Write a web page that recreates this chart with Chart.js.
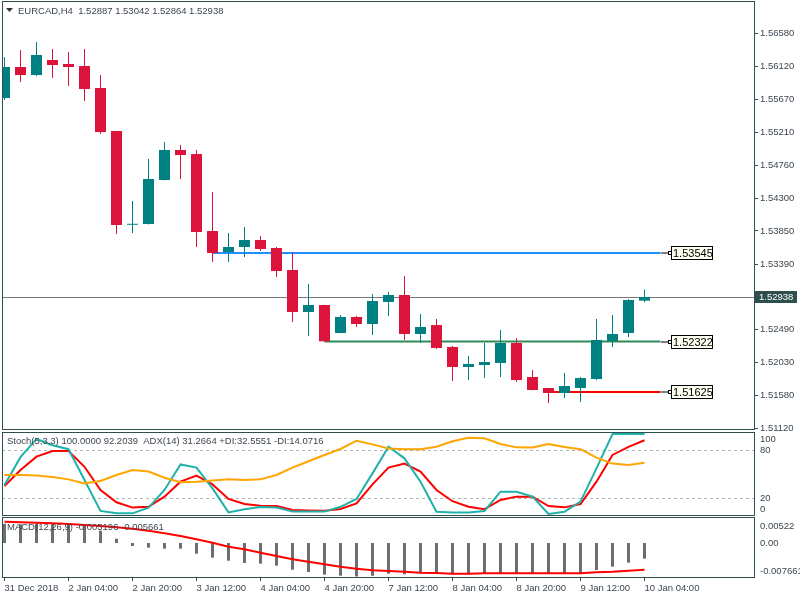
<!DOCTYPE html>
<html>
<head>
<meta charset="utf-8">
<script src="https://cdn.jsdelivr.net/npm/chart.js@4.4.1/dist/chart.umd.min.js"></script>
<style>
html,body{margin:0;padding:0;background:#fff;width:800px;height:600px;overflow:hidden}
canvas{position:absolute;left:0}
#c1{top:0}
#c2{top:431px}
#c3{top:516px}
</style>
</head>
<body>
<canvas id="c1" width="800" height="431"></canvas>
<canvas id="c2" width="800" height="85"></canvas>
<canvas id="c3" width="800" height="84"></canvas>
<script>
// ---------------- DATA ----------------
const categories = [
  "31 Dec 2018","31 Dec 16:00","31 Dec 20:00","2 Jan 00:00",
  "2 Jan 04:00","2 Jan 08:00","2 Jan 12:00","2 Jan 16:00",
  "2 Jan 20:00","3 Jan 00:00","3 Jan 04:00","3 Jan 08:00",
  "3 Jan 12:00","3 Jan 16:00","3 Jan 20:00","4 Jan 00:00",
  "4 Jan 04:00","4 Jan 08:00","4 Jan 12:00","4 Jan 16:00",
  "4 Jan 20:00","7 Jan 00:00","7 Jan 04:00","7 Jan 08:00",
  "7 Jan 12:00","7 Jan 16:00","7 Jan 20:00","8 Jan 00:00",
  "8 Jan 04:00","8 Jan 08:00","8 Jan 12:00","8 Jan 16:00",
  "8 Jan 20:00","9 Jan 00:00","9 Jan 04:00","9 Jan 08:00",
  "9 Jan 12:00","9 Jan 16:00","9 Jan 20:00","10 Jan 00:00",
  "10 Jan 04:00"
];
const timeTickIdx = [0,4,8,12,16,20,24,28,32,36,40];

const opens  = [1.55686,1.56114,1.56004,1.56211,1.56156,1.56128,1.55824,1.55230,1.53935,1.53946,
                1.54553,1.54968,1.54912,1.53849,1.53559,1.53628,1.53725,1.53614,1.53310,1.52730,
                1.52827,1.52440,1.52661,1.52564,1.52868,1.52965,1.52426,1.52550,1.52247,1.51970,
                1.51998,1.52026,1.52302,1.51832,1.51680,1.51611,1.51680,1.51805,1.52330,1.52440,
                1.52887];
const highs  = [1.56252,1.56349,1.56460,1.56363,1.56321,1.56363,1.56004,1.55232,1.54263,1.54843,
                1.55078,1.55037,1.54968,1.54388,1.53821,1.53904,1.53780,1.53628,1.53559,1.53117,
                1.52830,1.52689,1.52675,1.52979,1.53006,1.53227,1.52702,1.52633,1.52260,1.52122,
                1.52302,1.52481,1.52371,1.51929,1.51682,1.51887,1.51832,1.52633,1.52689,1.52910,
                1.53042];
const lows   = [1.55658,1.55907,1.55990,1.55962,1.55852,1.55645,1.55189,1.53807,1.53821,1.53940,
                1.54550,1.54567,1.53628,1.53421,1.53421,1.53490,1.53573,1.53214,1.52592,1.52399,
                1.52322,1.52440,1.52523,1.52412,1.52675,1.52343,1.52302,1.52219,1.51777,1.51791,
                1.51818,1.51832,1.51763,1.51650,1.51473,1.51542,1.51487,1.51791,1.52247,1.52385,
                1.52864];
const closes = [1.56114,1.56004,1.56280,1.56142,1.56114,1.55810,1.55216,1.53932,1.53940,1.54567,
                1.54968,1.54899,1.53835,1.53545,1.53628,1.53725,1.53600,1.53296,1.52730,1.52827,
                1.52325,1.52661,1.52564,1.52882,1.52965,1.52426,1.52523,1.52233,1.51970,1.52012,
                1.52039,1.52302,1.51791,1.51653,1.51611,1.51708,1.51818,1.52343,1.52426,1.52896,
                1.52938];

const priceTicks = [1.56580,1.56120,1.55670,1.55210,1.54760,1.54300,1.53850,1.53390,1.52490,1.52030,1.51580,1.51120];
const currentPrice = 1.52938;
const levelValues = [1.53545,1.52322,1.51625];
const levelStart  = [13,20,34];
const levelEnd    = 41;
const levelColors = ['#1e90ff','#2e8b57','#ff0000'];

const stochK = [36.3,71,93.8,86,81,42.5,3.8,0.8,0.8,8,
                30,62,58,32,2,6,8.8,8,3,3,
                3,9,18.8,50.8,84,69.6,40.4,2.9,2,2,
                3.8,27.9,27.9,21.7,0,2.9,15.4,57.1,100,100,
                100];
const stochD = [35,55,71.7,78.8,78.8,59,30,14.6,8,9,
                21.7,40.4,48,37,18.8,12.5,10.4,10,5,4.4,
                4,6.3,13.3,37,58,63,53,30,16,9,
                6,17.5,21.7,21.7,10,8.3,12.5,40.4,73.8,84,
                92.2];
const adxLine = [48.8,48.8,48,46.3,43.3,38.3,41.3,48.8,55,53,
                 45.4,39.6,40.4,42,43.3,42.5,43.3,48.8,58,66,
                 73.8,81.3,91.6,87,82,81,81,84,91,95.4,
                 94.6,87.5,83.3,83,87.5,83.8,81,70.4,63,61.3,
                 64];
const stochTicks = [100,80,20,0];
const stochLevels = [80,20];

const macdMain = [0.00440,0.00430,0.00435,0.00430,0.00425,0.00420,0.00281,0.00098,-0.00069,-0.00107,
                  -0.00130,-0.00130,-0.00245,-0.00336,-0.00405,-0.00457,-0.00473,-0.00519,-0.00611,-0.00663,
                  -0.00725,-0.00748,-0.007661,-0.00748,-0.00702,-0.00716,-0.00693,-0.00693,-0.00716,-0.00716,
                  -0.00693,-0.00693,-0.00693,-0.00693,-0.00693,-0.00693,-0.00693,-0.00617,-0.00542,-0.00451,
                  -0.00359];
const macdSignal = [0.00485,0.00473,0.00464,0.00450,0.00435,0.00412,0.00389,0.00358,0.00327,0.00281,
                    0.00221,0.00160,0.00084,0.00007,-0.00084,-0.00145,-0.00221,-0.00297,-0.00374,-0.00427,
                    -0.00488,-0.00541,-0.00587,-0.00625,-0.00640,-0.00656,-0.00679,-0.00687,-0.00702,-0.00702,
                    -0.00694,-0.00694,-0.00694,-0.00694,-0.00694,-0.00694,-0.00694,-0.00670,-0.00656,-0.00633,
                    -0.00611];
const macdTicks = [0.00522,0,-0.007661];
const macdTickLabels = ['0.00522','0.00','-0.007661'];

const titleText = 'EURCAD,H4  1.52887 1.53042 1.52864 1.52938';
const stochText = 'Stoch(5,3,3) 100.0000 92.2039  ADX(14) 31.2664 +DI:32.5551 -DI:14.0716';
const macdText  = 'MACD(12,26,9) -0.005196 -0.005661';

// ---------------- STYLE ----------------
const FAMILY = '"Liberation Sans", Arial, sans-serif';
const FONT = {family: FAMILY, size: 9.5};
const TXT = '#3c4650';
const FRAME = '#2f4f4f';
const UP = '#008080', DOWN = '#dc143c';
const X_MIN = -0.15625, X_MAX = 46.84375;
Chart.defaults.font.family = FAMILY;

const idx = categories.map((_, i) => i);
const candleColors = idx.map(i => closes[i] >= opens[i] ? UP : DOWN);

const framePlugin = {
  id: 'frame',
  afterDraw(c) {
    const a = c.chartArea, ctx = c.ctx;
    ctx.save();
    ctx.strokeStyle = FRAME; ctx.lineWidth = 1;
    ctx.strokeRect(a.left + 0.5, a.top + 0.5, a.right - a.left, a.bottom - a.top);
    ctx.restore();
  }
};
function noPad(s) { s.paddingTop = 0; s.paddingBottom = 0; s.paddingLeft = 0; s.paddingRight = 0; }

function hiddenX() {
  return {type: 'linear', min: X_MIN, max: X_MAX, display: false, offset: false};
}
const common = {
  responsive: false, animation: false, events: [],
  plugins: {legend: {display: false}, tooltip: {enabled: false}}
};

// ---------------- MAIN PRICE CHART ----------------
const mainOverlay = {
  id: 'mainOverlay',
  beforeDatasetsDraw(c) {
    const ctx = c.ctx, a = c.chartArea;
    const y = Math.round(c.scales.y.getPixelForValue(currentPrice)) + 0.5;
    ctx.save();
    ctx.strokeStyle = '#777'; ctx.lineWidth = 1;
    ctx.beginPath(); ctx.moveTo(a.left, y); ctx.lineTo(a.right, y); ctx.stroke();
    ctx.restore();
  },
  afterDraw(c) {
    const ctx = c.ctx, ys = c.scales.y, xs = c.scales.x;
    ctx.save();
    levelValues.forEach(v => {
      const y = Math.round(ys.getPixelForValue(v));
      const x0 = Math.round(xs.getPixelForValue(levelEnd));
      ctx.strokeStyle = '#000'; ctx.lineWidth = 1;
      ctx.beginPath(); ctx.moveTo(x0, y); ctx.lineTo(x0 + 7, y); ctx.stroke();
      ctx.strokeRect(x0 + 7.5, y - 1.5, 3, 3);
      ctx.fillStyle = '#fffff2';
      ctx.fillRect(x0 + 11, y - 6, 41, 13);
      ctx.strokeRect(x0 + 10.5, y - 6.5, 41, 13);
      ctx.fillStyle = '#000';
      ctx.font = '11px ' + FAMILY;
      ctx.textBaseline = 'middle'; ctx.textAlign = 'left';
      ctx.fillText(v.toFixed(5), x0 + 12, y + 0.5);
    });
    // current price tag on axis
    const yp = Math.round(ys.getPixelForValue(currentPrice));
    ctx.fillStyle = FRAME;
    ctx.fillRect(755, yp - 6, 42, 12);
    ctx.fillStyle = '#fff';
    ctx.font = '9.5px ' + FAMILY;
    ctx.textBaseline = 'middle'; ctx.textAlign = 'left';
    ctx.fillText(currentPrice.toFixed(5), 759, yp + 0.5);
    // title
    ctx.fillStyle = '#333';
    ctx.beginPath(); ctx.moveTo(6, 8); ctx.lineTo(13, 8); ctx.lineTo(9.5, 12); ctx.closePath(); ctx.fill();
    ctx.fillStyle = TXT;
    ctx.fillText(titleText, 18, 11);
    ctx.restore();
  }
};

const mainDatasets = [
  {type: 'bar', data: idx.map(i => ({x: i, y: [lows[i], highs[i]]})),
   backgroundColor: candleColors, barThickness: 1, maxBarThickness: 1, grouped: false,
   inflateAmount: 0, borderWidth: 0, order: 1},
  {type: 'bar', data: idx.map(i => ({x: i, y: [opens[i], closes[i]]})),
   backgroundColor: candleColors, barThickness: 11, maxBarThickness: 11, grouped: false,
   inflateAmount: 0, borderWidth: 0, minBarLength: 1, order: 0}
];
levelValues.forEach((v, k) => {
  mainDatasets.push({type: 'line', data: [{x: levelStart[k], y: v}, {x: levelEnd, y: v}],
    borderColor: levelColors[k], borderWidth: 2, pointRadius: 0, fill: false, order: 2});
});

new Chart(document.getElementById('c1'), {
  type: 'bar',
  data: {datasets: mainDatasets},
  options: Object.assign({}, common, {
    layout: {padding: {left: 2, top: 1, bottom: 2, right: 0}},
    scales: {
      x: hiddenX(),
      y: {
        position: 'right', min: 1.51114, max: 1.57026,
        afterFit(s) { s.width = 46; noPad(s); },
        afterBuildTicks(s) { s.ticks = priceTicks.map(v => ({value: v})); },
        ticks: {autoSkip: false, callback: v => Number(v).toFixed(5), font: FONT, color: TXT, padding: 2},
        grid: {drawOnChartArea: false, drawTicks: true, tickLength: 4, color: FRAME},
        border: {display: false}
      }
    }
  }),
  plugins: [framePlugin, mainOverlay]
});

// ---------------- helpers for sub-window labels ----------------
function sideLabels(values, texts, caption, captionY) {
  return {
    id: 'side',
    beforeDatasetsDraw(c) {
      const ctx = c.ctx, a = c.chartArea, ys = c.scales.y;
      if (c.canvas.id === 'c2') {
        ctx.save();
        ctx.strokeStyle = '#b4b4b4'; ctx.lineWidth = 1; ctx.setLineDash([3, 3]);
        stochLevels.forEach(v => {
          const y = Math.round(ys.getPixelForValue(v)) + 0.5;
          ctx.beginPath(); ctx.moveTo(a.left, y); ctx.lineTo(a.right, y); ctx.stroke();
        });
        ctx.restore();
      }
    },
    afterDraw(c) {
      const ctx = c.ctx, a = c.chartArea, ys = c.scales.y;
      ctx.save();
      ctx.font = '9.5px ' + FAMILY; ctx.fillStyle = TXT; ctx.textAlign = 'left';
      values.forEach((v, k) => {
        const y = ys.getPixelForValue(v);
        let base = 'middle', yy = y;
        if (k === 0) { base = 'top'; yy = y + 1; }
        else if (k === values.length - 1) { base = 'bottom'; yy = y; }
        ctx.textBaseline = base;
        ctx.fillText(texts[k], a.right + 6, yy);
      });
      ctx.textBaseline = 'middle';
      ctx.fillText(caption, 7, captionY);
      ctx.restore();
    }
  };
}

// ---------------- STOCHASTIC / ADX WINDOW ----------------
function lineSet(values, color, width) {
  return {type: 'line', data: idx.map(i => ({x: i, y: values[i]})), borderColor: color,
          borderWidth: width, pointRadius: 0, fill: false, tension: 0};
}
new Chart(document.getElementById('c2'), {
  type: 'line',
  data: {datasets: [
    lineSet(adxLine, '#ffa500', 2),
    lineSet(stochK, '#20b2aa', 2),
    lineSet(stochD, '#ff0000', 2)
  ]},
  options: Object.assign({}, common, {
    layout: {padding: {left: 2, top: 1, bottom: 1, right: 0}},
    scales: {
      x: hiddenX(),
      y: {position: 'right', min: -1.25, max: 102.5,
          afterFit(s) { s.width = 46; noPad(s); },
          ticks: {display: false}, grid: {display: false}, border: {display: false}}
    }
  }),
  plugins: [framePlugin, sideLabels(stochTicks, stochTicks.map(String), stochText, 10)]
});

// ---------------- MACD WINDOW ----------------
new Chart(document.getElementById('c3'), {
  type: 'bar',
  data: {datasets: [
    {type: 'line', data: idx.map(i => ({x: i, y: macdSignal[i]})), borderColor: '#ff0000',
     borderWidth: 2, pointRadius: 0, fill: false, tension: 0, order: 0},
    {type: 'bar', data: idx.map(i => ({x: i, y: macdMain[i]})), backgroundColor: '#6e6e6e',
     barThickness: 3, maxBarThickness: 3, grouped: false, inflateAmount: 0, borderWidth: 0, order: 1}
  ]},
  options: Object.assign({}, common, {
    layout: {padding: {left: 2, top: 1, bottom: 0, right: 0}},
    scales: {
      x: {type: 'linear', min: X_MIN, max: X_MAX, position: 'bottom', offset: false,
          afterFit(s) { s.height = 23; noPad(s); },
          afterBuildTicks(s) { s.ticks = timeTickIdx.map(v => ({value: v})); },
          ticks: {autoSkip: false, maxRotation: 0, minRotation: 0, align: 'start',
                  callback: v => categories[v], font: FONT, color: TXT, padding: 2},
          grid: {drawOnChartArea: false, drawTicks: true, tickLength: 4, color: FRAME, offset: false},
          border: {display: false}},
      y: {position: 'right', min: -0.007776, max: 0.005946,
          afterFit(s) { s.width = 46; noPad(s); },
          ticks: {display: false}, grid: {display: false}, border: {display: false}}
    }
  }),
  plugins: [framePlugin, sideLabels(macdTicks, macdTickLabels, macdText, 11)]
});
</script>
</body>
</html>
